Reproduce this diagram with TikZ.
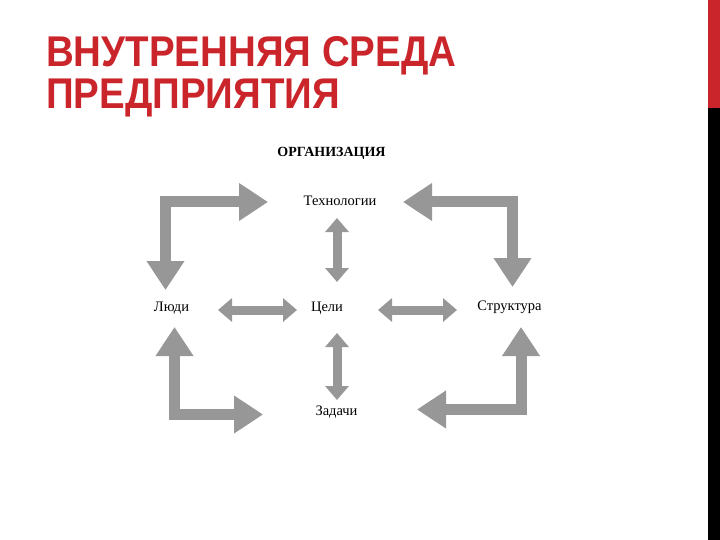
\documentclass[tikz,border=0pt]{standalone}
\usepackage{fontspec}
\setmainfont{Liberation Serif}
\newfontfamily\titlefont{Liberation Sans}[FakeStretch=0.895]
\usetikzlibrary{arrows.meta,calc}
\definecolor{slidered}{HTML}{CB252C}
\definecolor{arrowgray}{HTML}{979797}

\tikzset{
  heading/.style={font=\titlefont\bfseries\fontsize{43}{44}\selectfont,
    text=slidered,inner sep=0pt,anchor=base west},
  lbl/.style={font=\fontsize{14.5}{16}\selectfont,inner sep=0pt},
  elbow/.style={draw=arrowgray,line width=11pt,line join=miter,
    {Triangle[length=29pt,width=36pt]}-{Triangle[length=29pt,width=36pt]}},
  link/.style={draw=arrowgray,line width=9pt,
    {Triangle[length=14pt,width=23pt]}-{Triangle[length=14pt,width=23pt]}}
}

\begin{document}
\begin{tikzpicture}[x=1pt,y=-1pt]
  \useasboundingbox (0,0) rectangle (720,540);

  % Side band.
  \fill[slidered] (708,0) rectangle (720,108);
  \fill[black] (708,108) rectangle (720,540);

  % Slide heading.
  \node[heading] (title1) at (46,67) {ВНУТРЕННЯЯ СРЕДА};
  \node[heading] (title2) at (46,108.5) {ПРЕДПРИЯТИЯ};

  % Parts of the organisation.
  \node[lbl,font=\bfseries\fontsize{14}{16}\selectfont] (org) at (331.5,153) {ОРГАНИЗАЦИЯ};
  \node[lbl] (tech) at (340,201) {Технологии};
  \node[lbl] (lyudi) at (171.5,308) {Люди};
  \node[lbl] (celi) at (327,308) {Цели};
  \node[lbl] (struct) at (509.5,307) {Структура};
  \node[lbl] (zadachi) at (336.5,412) {Задачи};

  % Corner arrows.
  \draw[elbow] ($(lyudi)+(-6,-18)$) |- ($(tech)+(-72,1)$);
  \draw[elbow] ($(struct)+(3,-20)$) |- ($(tech)+(63,1)$);
  \draw[elbow] ($(lyudi)+(3,19)$) |- ($(zadachi)+(-73.5,2.5)$);
  \draw[elbow] ($(struct)+(11.5,20)$) |- ($(zadachi)+(80.5,-2.5)$);

  % Links with the goals.
  \draw[link] ($(celi)+(10,-26)$) -- ($(tech)+(-3,17)$);
  \draw[link] ($(celi)+(10,25)$) -- ($(zadachi)+(0.5,-12)$);
  \draw[link] ($(lyudi)+(46.5,2)$) -- ($(celi)+(-30,2)$);
  \draw[link] ($(celi)+(51,2)$) -- ($(struct)+(-52.5,3)$);
\end{tikzpicture}
\end{document}
